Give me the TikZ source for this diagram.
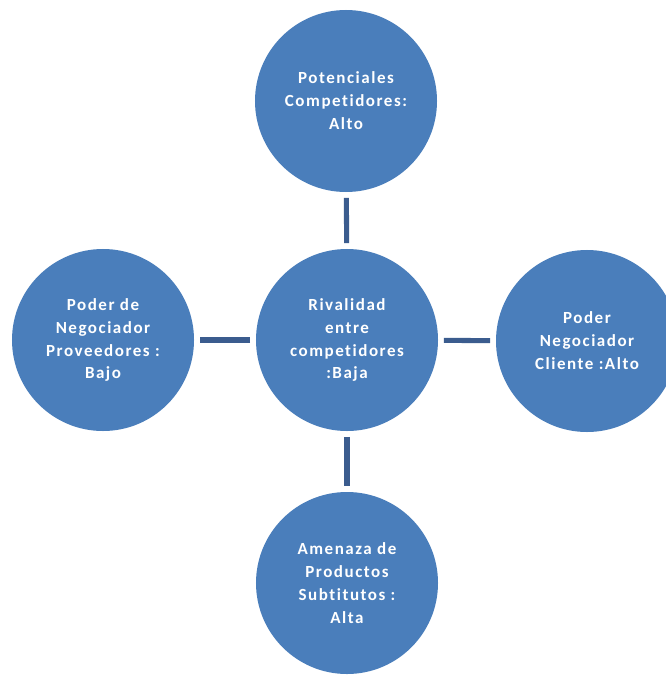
\documentclass[tikz,border=0pt]{standalone}
\usepackage{fontspec}
\newfontfamily\diagfont[LetterSpace=9, Ligatures={NoCommon}]{Carlito}
\usetikzlibrary{positioning}
\definecolor{circblue}{HTML}{4A7EBB}
\definecolor{lineblue}{HTML}{3B5C8E}

\begin{document}
\begin{tikzpicture}[x=0.03cm, y=-0.03cm,
    force/.style={circle, fill=circblue, minimum size=5.46cm, inner sep=0pt,
      text=white, align=center, font=\diagfont\bfseries\fontsize{14.5}{19.6}\selectfont},
    link/.style={draw=lineblue, line width=4.3pt, shorten >=0.17cm, shorten <=0.17cm}]
  \useasboundingbox (0,0) rectangle (665,675);
  % central force
  \node[force] (Riv) at (347,340) {Rivalidad\\entre\\competidores\\:Baja};
  % surrounding forces
  \node[force] (Pot) at (346,101) {Potenciales\\Competidores:\\Alto};
  \node[force] (Prov) at (103,340) {Poder de\\Negociador\\Proveedores :\\Bajo};
  \node[force] (Cli) at (587,341) {Poder\\Negociador\\Cliente :Alto};
  \node[force] (Sub) at (347,583) {Amenaza de\\Productos\\Subtitutos :\\Alta};
  % links
  \foreach \other in {Pot,Prov,Cli,Sub}
    \draw[link] (Riv) -- (\other);
\end{tikzpicture}
\end{document}
